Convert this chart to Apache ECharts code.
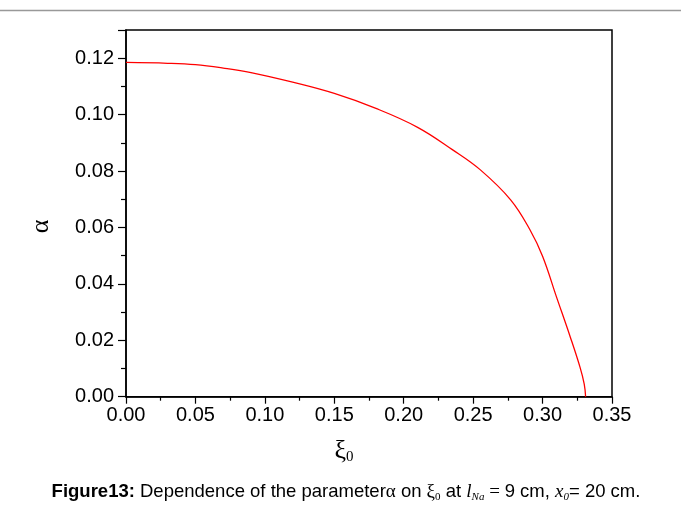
<!DOCTYPE html>
<html>
<head>
<meta charset="utf-8">
<script src="https://cdn.jsdelivr.net/npm/echarts@6/dist/echarts.min.js"></script>
<style>
  html, body { margin: 0; padding: 0; background: #fff; }
  #chart { width: 681px; height: 506px; }
</style>
</head>
<body>
<div id="chart"></div>
<script>
// xi_0 values and alpha
const xi0 = [0, 0.03, 0.05, 0.07, 0.09, 0.12, 0.15, 0.18, 0.21, 0.235, 0.255, 0.277, 0.291, 0.300, 0.310, 0.320, 0.327, 0.330, 0.331];
const alpha = [0.1185, 0.1182, 0.1177, 0.1165, 0.1149, 0.1115, 0.1075, 0.1022, 0.0955, 0.0876, 0.0805, 0.0698, 0.0591, 0.0498, 0.0354, 0.0211, 0.0104, 0.0045, 0.0];

const xTicks = { min: 0, max: 0.35, interval: 0.05 };
const yTicks = { min: 0, max: 0.13, interval: 0.02 };

const chart = echarts.init(document.getElementById('chart'));

const axisFont = { color: '#000', fontSize: 20, fontFamily: 'Liberation Sans, Arial, sans-serif' };

const option = {
  animation: false,
  grid: {
    left: 126, top: 30, right: 69, bottom: 109.3,
    show: true, borderColor: '#000', borderWidth: 1.5
  },
  xAxis: {
    type: 'value',
    min: xTicks.min, max: xTicks.max, interval: xTicks.interval,
    name: '{g|ξ}{s|0}',
    nameLocation: 'middle',
    nameGap: 40,
    nameTextStyle: {
      padding: [0, 50, 0, 0],
      rich: {
        g: { fontFamily: 'Liberation Serif, serif', fontSize: 26, color: '#000', lineHeight: 28 },
        s: { fontFamily: 'Liberation Serif, serif', fontSize: 15, color: '#000', lineHeight: 12, verticalAlign: 'bottom' }
      }
    },
    axisLine: { lineStyle: { color: '#000', width: 1.5 } },
    axisTick: { inside: false, length: 7, lineStyle: { color: '#000', width: 1.2 } },
    minorTick: { show: true, splitNumber: 2, length: 4, lineStyle: { color: '#000', width: 1.2 } },
    axisLabel: Object.assign({ margin: 9, formatter: v => v.toFixed(2) }, axisFont),
    splitLine: { show: false }
  },
  yAxis: {
    type: 'value',
    min: yTicks.min, max: yTicks.max, interval: yTicks.interval,
    name: 'α',
    nameLocation: 'middle',
    nameRotate: 90,
    nameGap: 72,
    nameTextStyle: { fontFamily: 'Liberation Serif, serif', fontSize: 26, color: '#000', padding: [0, 26, 0, 0] },
    axisLine: { show: true, lineStyle: { color: '#000', width: 1.5 } },
    axisTick: { inside: false, length: 8, lineStyle: { color: '#000', width: 1.2 } },
    minorTick: { show: true, splitNumber: 2, length: 5, lineStyle: { color: '#000', width: 1.2 } },
    axisLabel: Object.assign({ margin: 12, showMaxLabel: false, formatter: v => v.toFixed(2) }, axisFont),
    splitLine: { show: false }
  },
  series: [{
    type: 'line',
    data: xi0.map((x, i) => [x, alpha[i]]),
    showSymbol: false,
    smooth: 0.4,
    lineStyle: { color: '#ff0000', width: 1.3 }
  }],
  graphic: [
    {
      type: 'line',
      shape: { x1: 0, y1: 10.5, x2: 681, y2: 10.5 },
      style: { stroke: '#999', lineWidth: 1.5 }
    },
    {
      type: 'text',
      x: 346, y: 492,
      style: {
        text: '{b|Figure13:}{n| Dependence of the parameter}{g|α}{n| on }{g|ξ}{gs|0}{n| at }{i|l}{is|Na}{g| = }{n|9 cm, }{i|x}{is|0}{n|= 20 cm.}',
        align: 'center',
        verticalAlign: 'middle',
        rich: {
          b: { fontFamily: 'Liberation Sans, sans-serif', fontWeight: 'bold', fontSize: 18.5, fill: '#000', lineHeight: 22 },
          n: { fontFamily: 'Liberation Sans, sans-serif', fontSize: 18.5, fill: '#000', lineHeight: 22 },
          g: { fontFamily: 'Liberation Serif, serif', fontSize: 19, fill: '#000', lineHeight: 22 },
          gs: { fontFamily: 'Liberation Serif, serif', fontSize: 11, fill: '#000', lineHeight: 10, verticalAlign: 'bottom' },
          i: { fontFamily: 'Liberation Serif, serif', fontStyle: 'italic', fontSize: 19, fill: '#000', lineHeight: 22 },
          is: { fontFamily: 'Liberation Serif, serif', fontStyle: 'italic', fontSize: 11, fill: '#000', lineHeight: 10, verticalAlign: 'bottom' }
        }
      }
    }
  ]
};

chart.setOption(option);
</script>
</body>
</html>
